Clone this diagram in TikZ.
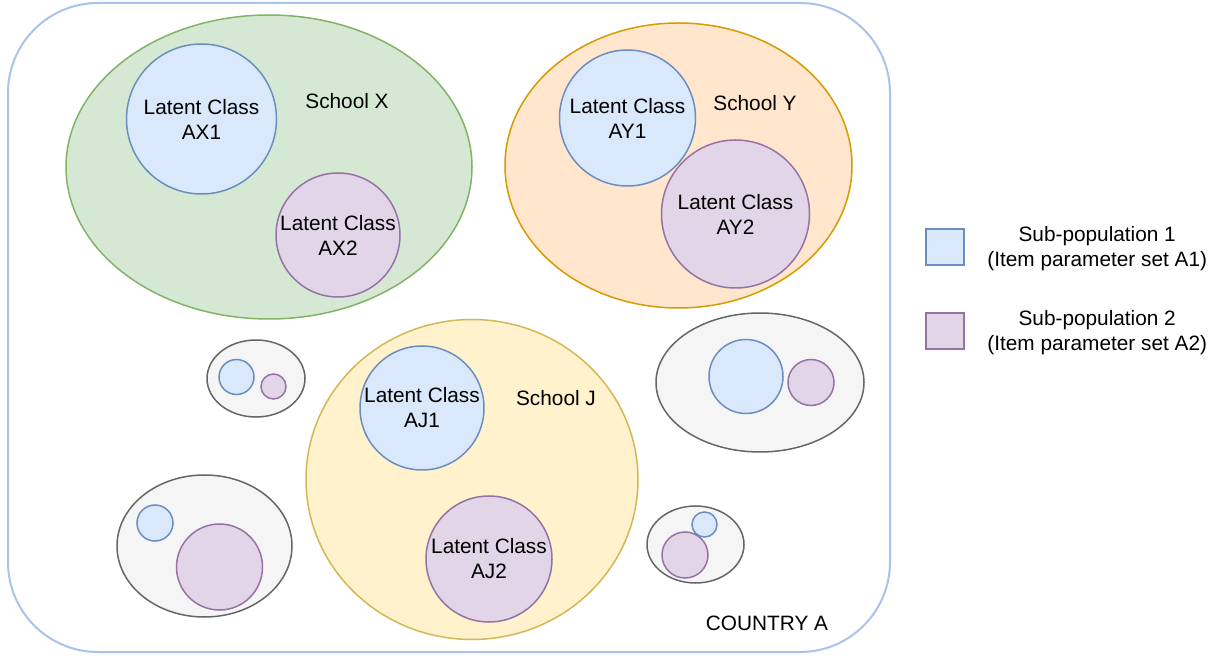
\documentclass[tikz,border=0pt]{standalone}
\usepackage{fontspec}
\setmainfont{Liberation Sans}
\usetikzlibrary{shapes.geometric,positioning}
\definecolor{countryLine}{HTML}{A9C4EB}
\definecolor{blueFill}{HTML}{DAE8FC}
\definecolor{blueLine}{HTML}{6C8EBF}
\definecolor{purpleFill}{HTML}{E1D5E7}
\definecolor{purpleLine}{HTML}{9673A6}
\definecolor{greenFill}{HTML}{D5E8D4}
\definecolor{greenLine}{HTML}{82B366}
\definecolor{orangeFill}{HTML}{FFE6CC}
\definecolor{orangeLine}{HTML}{D79B00}
\definecolor{yellowFill}{HTML}{FFF2CC}
\definecolor{yellowLine}{HTML}{D6B656}
\definecolor{greyFill}{HTML}{F5F5F5}
\definecolor{greyLine}{HTML}{666666}
\newcommand{\lbl}{\fontsize{10.4pt}{12.5pt}\selectfont}
\tikzset{
  country/.style={draw=countryLine,line width=1pt,fill=white,rounded corners=45pt},
  school/.style={ellipse,line width=.75pt,inner sep=0pt},
  school_x/.style={school,draw=greenLine,fill=greenFill},
  school_y/.style={school,draw=orangeLine,fill=orangeFill},
  school_j/.style={school,draw=yellowLine,fill=yellowFill},
  school_o/.style={school,draw=greyLine,fill=greyFill},
  cls_one/.style={circle,draw=blueLine,fill=blueFill,line width=.75pt,
    inner sep=0pt,font=\lbl,align=center},
  cls_two/.style={circle,draw=purpleLine,fill=purpleFill,line width=.75pt,
    inner sep=0pt,font=\lbl,align=center},
  key_one/.style={draw=blueLine,fill=blueFill,line width=1pt,minimum width=19pt,minimum height=18pt},
  key_two/.style={draw=purpleLine,fill=purpleFill,line width=1pt,minimum width=19pt,minimum height=18pt},
  tag/.style={font=\lbl,inner sep=0pt,align=center},
}

\begin{document}
\begin{tikzpicture}[x=0.5pt,y=-0.5pt]
  \useasboundingbox (0,0) rectangle (1221,657);
  \draw[country] (8,3) rectangle (890,652);
  \node[tag] (ctry) at (767,623) {COUNTRY A};

  % named schools
  \node[school_x,minimum width=203pt,minimum height=152pt] (sx) at (269,167) {};
  \node[cls_one,minimum size=75pt] (ax1) at (201.5,119) {Latent Class\\AX1};
  \node[cls_two,minimum size=62pt] (ax2) at (338,235) {Latent Class\\AX2};
  \node[tag] (sxl) at (347,101) {School X};

  \node[school_y,minimum width=173.5pt,minimum height=142.5pt] (sy) at (678.5,165.5) {};
  \node[cls_one,minimum size=68pt] (ay1) at (627.5,118) {Latent Class\\AY1};
  \node[cls_two,minimum size=74pt] (ay2) at (735.5,214) {Latent Class\\AY2};
  \node[tag] (syl) at (755,103) {School Y};

  \node[school_j,minimum width=166pt,minimum height=160pt] (sj) at (472,479.5) {};
  \node[cls_one,minimum size=62pt] (aj1) at (422,408) {Latent Class\\AJ1};
  \node[cls_two,minimum size=63pt] (aj2) at (489,559) {Latent Class\\AJ2};
  \node[tag] (sjl) at (556,398) {School J};

  % other schools
  \node[school_o,minimum width=49pt,minimum height=38.5pt] (s1) at (256,378.5) {};
  \node[cls_one,minimum size=17.5pt] (s1a) at (236.5,377) {};
  \node[cls_two,minimum size=12.5pt] (s1b) at (273.5,386.5) {};

  \node[school_o,minimum width=87.5pt,minimum height=71pt] (s2) at (204.5,546) {};
  \node[cls_one,minimum size=18pt] (s2a) at (155,523) {};
  \node[cls_two,minimum size=43pt] (s2b) at (219.5,567) {};

  \node[school_o,minimum width=104pt,minimum height=69.5pt] (s3) at (760,382.5) {};
  \node[cls_one,minimum size=37pt] (s3a) at (746,376.5) {};
  \node[cls_two,minimum size=23pt] (s3b) at (811,382.5) {};

  \node[school_o,minimum width=48.5pt,minimum height=38.5pt] (s4) at (695.5,544.5) {};
  \node[cls_one,minimum size=12.5pt] (s4a) at (704.5,524.5) {};
  \node[cls_two,minimum size=23pt] (s4b) at (685,555) {};

  % legend
  \node[key_one] (key1) at (945,247) {};
  \node[tag,right=11pt of key1,yshift=-1pt] (key1t) {Sub-population 1\\(Item parameter set A1)};
  \node[key_two] (key2) at (945,331) {};
  \node[tag,right=11pt of key2,yshift=-1pt] (key2t) {Sub-population 2\\(Item parameter set A2)};
\end{tikzpicture}
\end{document}
